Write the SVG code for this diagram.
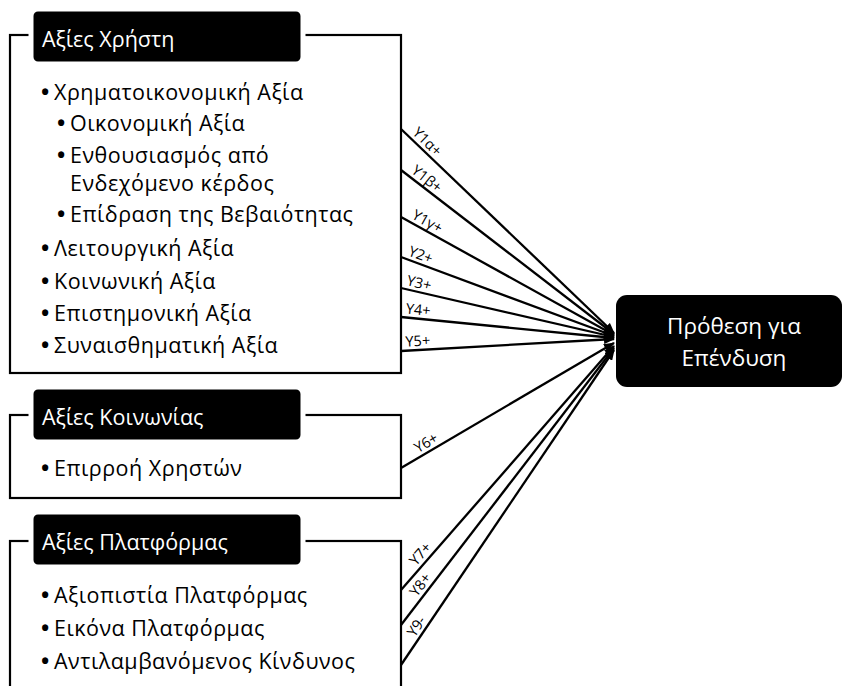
<svg xmlns="http://www.w3.org/2000/svg" width="844" height="686" viewBox="0 0 844 686">
<defs>
<style>
.frame{fill:none;stroke:#000;stroke-width:2.2}
.hdr{fill:#000;stroke:#fff;stroke-width:5}
.ht{font-family:"Open Sans","Noto Sans","DejaVu Sans",sans-serif;font-size:21.5px;fill:#fff}
.bt{font-family:"Open Sans","Noto Sans","DejaVu Sans",sans-serif;font-size:21.5px;letter-spacing:0.5px;fill:#000}
.bt .b{font-weight:bold;font-size:22px}
.conn{stroke:#000;stroke-width:2.3;fill:none;marker-end:url(#arr)}
.lbl{font-family:"Open Sans","Noto Sans","DejaVu Sans",sans-serif;font-size:14.5px;fill:#000}
</style>
<marker id="arr" markerUnits="userSpaceOnUse" markerWidth="11" markerHeight="9" refX="10" refY="4.5" orient="auto">
<path d="M0,0 L11,4.5 L0,9 z" fill="#000"/>
</marker>
</defs>
<rect width="844" height="686" fill="#fff"/>

<g id="user-values">
<rect class="frame" x="10" y="35" width="391" height="338"/>
<rect class="hdr" x="31" y="9" width="272" height="55" rx="7"/>
<text class="ht" x="42" y="47">Αξίες Χρήστη</text>
<text class="bt" y="100"><tspan class="b" x="41">•</tspan><tspan x="54">Χρηματοικονομική Αξία</tspan></text>
<text class="bt" y="131"><tspan class="b" x="57">•</tspan><tspan x="70">Οικονομική Αξία</tspan></text>
<text class="bt" y="163"><tspan class="b" x="57">•</tspan><tspan x="70">Ενθουσιασμός από</tspan></text>
<text class="bt" x="70" y="191">Ενδεχόμενο κέρδος</text>
<text class="bt" y="222"><tspan class="b" x="57">•</tspan><tspan x="70">Επίδραση της Βεβαιότητας</tspan></text>
<text class="bt" y="256"><tspan class="b" x="41">•</tspan><tspan x="54">Λειτουργική Αξία</tspan></text>
<text class="bt" y="289"><tspan class="b" x="41">•</tspan><tspan x="54">Κοινωνική Αξία</tspan></text>
<text class="bt" y="321"><tspan class="b" x="41">•</tspan><tspan x="54">Επιστημονική Αξία</tspan></text>
<text class="bt" y="353"><tspan class="b" x="41">•</tspan><tspan x="54">Συναισθηματική Αξία</tspan></text>
</g>

<g id="society-values">
<rect class="frame" x="10" y="415" width="391" height="83"/>
<rect class="hdr" x="31" y="387" width="272" height="55" rx="7"/>
<text class="ht" x="42" y="425">Αξίες Κοινωνίας</text>
<text class="bt" y="476"><tspan class="b" x="41">•</tspan><tspan x="54">Επιρροή Χρηστών</tspan></text>
</g>

<g id="platform-values">
<rect class="frame" x="10" y="541" width="391" height="170"/>
<rect class="hdr" x="31" y="512" width="272" height="55" rx="7"/>
<text class="ht" x="42" y="550">Αξίες Πλατφόρμας</text>
<text class="bt" y="603"><tspan class="b" x="41">•</tspan><tspan x="54">Αξιοπιστία Πλατφόρμας</tspan></text>
<text class="bt" y="636"><tspan class="b" x="41">•</tspan><tspan x="54">Εικόνα Πλατφόρμας</tspan></text>
<text class="bt" y="669"><tspan class="b" x="41">•</tspan><tspan x="54">Αντιλαμβανόμενος Κίνδυνος</tspan></text>
</g>

<g id="intention">
<rect x="616" y="295" width="226" height="92" rx="11" fill="#000"/>
<text class="ht" x="734" y="334" text-anchor="middle" style="font-size:22.5px">Πρόθεση για</text>
<text class="ht" x="734" y="366" text-anchor="middle" style="font-size:22.5px">Επένδυση</text>
</g>

<g id="connectors">
<line class="conn" x1="401" y1="129" x2="614" y2="333"/>
<line class="conn" x1="401" y1="170" x2="614" y2="334"/>
<line class="conn" x1="401" y1="217" x2="614" y2="335"/>
<line class="conn" x1="401" y1="257" x2="614" y2="336"/>
<line class="conn" x1="401" y1="288" x2="614" y2="337"/>
<line class="conn" x1="401" y1="317" x2="614" y2="338"/>
<line class="conn" x1="401" y1="351" x2="614" y2="339"/>
<line class="conn" x1="401" y1="468" x2="614" y2="343"/>
<line class="conn" x1="401" y1="590" x2="614" y2="346"/>
<line class="conn" x1="401" y1="625" x2="614" y2="348"/>
<line class="conn" x1="401" y1="665" x2="614" y2="350"/>
<text class="lbl" transform="translate(409,136.5) rotate(44)" x="0" y="-4">Y1α+</text>
<text class="lbl" transform="translate(408,175.5) rotate(37.9)" x="0" y="-4">Y1β+</text>
<text class="lbl" transform="translate(409,221.5) rotate(29.2)" x="0" y="-4">Y1γ+</text>
<text class="lbl" transform="translate(406,259) rotate(20.5)" x="0" y="-4">Y2+</text>
<text class="lbl" transform="translate(405,289) rotate(13.1)" x="0" y="-4">Y3+</text>
<text class="lbl" transform="translate(405,317.4) rotate(5.7)" x="0" y="-4">Y4+</text>
<text class="lbl" transform="translate(406,350.7) rotate(-3.3)" x="0" y="-4">Y5+</text>
<text class="lbl" transform="translate(420,456.8) rotate(-30.6)" x="0" y="-4">Y6+</text>
<text class="lbl" transform="translate(419,569) rotate(-49.1)" x="0" y="-4">Y7+</text>
<text class="lbl" transform="translate(420,600) rotate(-52.7)" x="0" y="-4">Y8+</text>
<text class="lbl" transform="translate(418,640) rotate(-56.2)" x="0" y="-4">Y9-</text>
</g>
</svg>
